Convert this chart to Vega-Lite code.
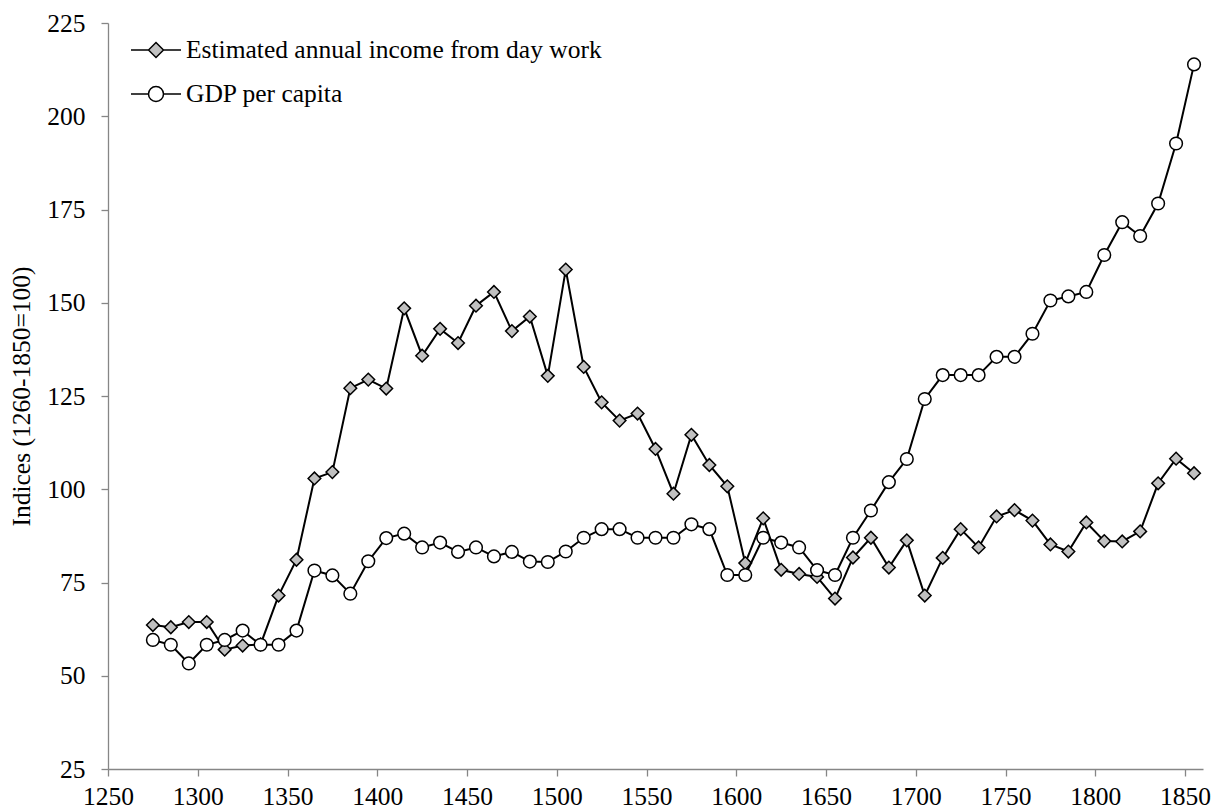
{
  "$schema": "https://vega.github.io/schema/vega-lite/v6.json",
  "width": 1095,
  "height": 746,
  "autosize": {"type": "none"},
  "padding": {"left": 108, "top": 23, "right": 23, "bottom": 41},
  "background": "white",
  "config": {
    "font": "Liberation Serif",
    "view": {"stroke": null},
    "axis": {
      "domainColor": "#868686",
      "tickColor": "#868686",
      "domainWidth": 1.3,
      "tickWidth": 1.3,
      "tickSize": 7,
      "labelFont": "Liberation Serif",
      "labelFontSize": 25.5,
      "labelColor": "#000000",
      "labelFlush": false,
      "grid": false,
      "titleFont": "Liberation Serif",
      "titleFontSize": 25.5,
      "titleFontWeight": "normal",
      "titleColor": "#000000"
    },
    "legend": {
      "title": null,
      "orient": "none",
      "padding": 0,
      "symbolSize": 2500,
      "symbolStrokeColor": "#000000",
      "symbolStrokeWidth": 1.5,
      "labelFont": "Liberation Serif",
      "labelFontSize": 25.5,
      "labelColor": "#000000",
      "labelOffset": 4,
      "labelLimit": 600
    }
  },
  "resolve": {"scale": {"fill": "independent"}, "legend": {"fill": "independent"}},
  "data": {
    "values": [
      {"year": 1275, "series": "Estimated annual income from day work", "value": 63.6},
      {"year": 1285, "series": "Estimated annual income from day work", "value": 63.0},
      {"year": 1295, "series": "Estimated annual income from day work", "value": 64.4},
      {"year": 1305, "series": "Estimated annual income from day work", "value": 64.4},
      {"year": 1315, "series": "Estimated annual income from day work", "value": 57.0},
      {"year": 1325, "series": "Estimated annual income from day work", "value": 58.1},
      {"year": 1335, "series": "Estimated annual income from day work", "value": 58.4},
      {"year": 1345, "series": "Estimated annual income from day work", "value": 71.5},
      {"year": 1355, "series": "Estimated annual income from day work", "value": 81.1},
      {"year": 1365, "series": "Estimated annual income from day work", "value": 102.9},
      {"year": 1375, "series": "Estimated annual income from day work", "value": 104.6},
      {"year": 1385, "series": "Estimated annual income from day work", "value": 127.1},
      {"year": 1395, "series": "Estimated annual income from day work", "value": 129.4},
      {"year": 1405, "series": "Estimated annual income from day work", "value": 127.0},
      {"year": 1415, "series": "Estimated annual income from day work", "value": 148.5},
      {"year": 1425, "series": "Estimated annual income from day work", "value": 135.8},
      {"year": 1435, "series": "Estimated annual income from day work", "value": 143.0},
      {"year": 1445, "series": "Estimated annual income from day work", "value": 139.2},
      {"year": 1455, "series": "Estimated annual income from day work", "value": 149.2},
      {"year": 1465, "series": "Estimated annual income from day work", "value": 152.9},
      {"year": 1475, "series": "Estimated annual income from day work", "value": 142.4},
      {"year": 1485, "series": "Estimated annual income from day work", "value": 146.3},
      {"year": 1495, "series": "Estimated annual income from day work", "value": 130.4},
      {"year": 1505, "series": "Estimated annual income from day work", "value": 158.9},
      {"year": 1515, "series": "Estimated annual income from day work", "value": 132.8},
      {"year": 1525, "series": "Estimated annual income from day work", "value": 123.3},
      {"year": 1535, "series": "Estimated annual income from day work", "value": 118.4},
      {"year": 1545, "series": "Estimated annual income from day work", "value": 120.3},
      {"year": 1555, "series": "Estimated annual income from day work", "value": 110.8},
      {"year": 1565, "series": "Estimated annual income from day work", "value": 98.8},
      {"year": 1575, "series": "Estimated annual income from day work", "value": 114.6},
      {"year": 1585, "series": "Estimated annual income from day work", "value": 106.5},
      {"year": 1595, "series": "Estimated annual income from day work", "value": 100.8},
      {"year": 1605, "series": "Estimated annual income from day work", "value": 80.2},
      {"year": 1615, "series": "Estimated annual income from day work", "value": 92.2},
      {"year": 1625, "series": "Estimated annual income from day work", "value": 78.4},
      {"year": 1635, "series": "Estimated annual income from day work", "value": 77.3},
      {"year": 1645, "series": "Estimated annual income from day work", "value": 76.5},
      {"year": 1655, "series": "Estimated annual income from day work", "value": 70.7},
      {"year": 1665, "series": "Estimated annual income from day work", "value": 81.7},
      {"year": 1675, "series": "Estimated annual income from day work", "value": 87.0},
      {"year": 1685, "series": "Estimated annual income from day work", "value": 79.0},
      {"year": 1695, "series": "Estimated annual income from day work", "value": 86.3},
      {"year": 1705, "series": "Estimated annual income from day work", "value": 71.5},
      {"year": 1715, "series": "Estimated annual income from day work", "value": 81.6},
      {"year": 1725, "series": "Estimated annual income from day work", "value": 89.3},
      {"year": 1735, "series": "Estimated annual income from day work", "value": 84.4},
      {"year": 1745, "series": "Estimated annual income from day work", "value": 92.7},
      {"year": 1755, "series": "Estimated annual income from day work", "value": 94.4},
      {"year": 1765, "series": "Estimated annual income from day work", "value": 91.6},
      {"year": 1775, "series": "Estimated annual income from day work", "value": 85.2},
      {"year": 1785, "series": "Estimated annual income from day work", "value": 83.3},
      {"year": 1795, "series": "Estimated annual income from day work", "value": 91.1},
      {"year": 1805, "series": "Estimated annual income from day work", "value": 86.1},
      {"year": 1815, "series": "Estimated annual income from day work", "value": 86.0},
      {"year": 1825, "series": "Estimated annual income from day work", "value": 88.7},
      {"year": 1835, "series": "Estimated annual income from day work", "value": 101.6},
      {"year": 1845, "series": "Estimated annual income from day work", "value": 108.2},
      {"year": 1855, "series": "Estimated annual income from day work", "value": 104.3},
      {"year": 1275, "series": "GDP per capita", "value": 59.6},
      {"year": 1285, "series": "GDP per capita", "value": 58.3},
      {"year": 1295, "series": "GDP per capita", "value": 53.3},
      {"year": 1305, "series": "GDP per capita", "value": 58.3},
      {"year": 1315, "series": "GDP per capita", "value": 59.6},
      {"year": 1325, "series": "GDP per capita", "value": 62.1},
      {"year": 1335, "series": "GDP per capita", "value": 58.3},
      {"year": 1345, "series": "GDP per capita", "value": 58.3},
      {"year": 1355, "series": "GDP per capita", "value": 62.1},
      {"year": 1365, "series": "GDP per capita", "value": 78.2},
      {"year": 1375, "series": "GDP per capita", "value": 76.9},
      {"year": 1385, "series": "GDP per capita", "value": 72.0},
      {"year": 1395, "series": "GDP per capita", "value": 80.7},
      {"year": 1405, "series": "GDP per capita", "value": 86.9},
      {"year": 1415, "series": "GDP per capita", "value": 88.1},
      {"year": 1425, "series": "GDP per capita", "value": 84.4},
      {"year": 1435, "series": "GDP per capita", "value": 85.7},
      {"year": 1445, "series": "GDP per capita", "value": 83.2},
      {"year": 1455, "series": "GDP per capita", "value": 84.4},
      {"year": 1465, "series": "GDP per capita", "value": 82.0},
      {"year": 1475, "series": "GDP per capita", "value": 83.2},
      {"year": 1485, "series": "GDP per capita", "value": 80.6},
      {"year": 1495, "series": "GDP per capita", "value": 80.5},
      {"year": 1505, "series": "GDP per capita", "value": 83.3},
      {"year": 1515, "series": "GDP per capita", "value": 87.0},
      {"year": 1525, "series": "GDP per capita", "value": 89.3},
      {"year": 1535, "series": "GDP per capita", "value": 89.3},
      {"year": 1545, "series": "GDP per capita", "value": 87.0},
      {"year": 1555, "series": "GDP per capita", "value": 87.0},
      {"year": 1565, "series": "GDP per capita", "value": 87.0},
      {"year": 1575, "series": "GDP per capita", "value": 90.6},
      {"year": 1585, "series": "GDP per capita", "value": 89.3},
      {"year": 1595, "series": "GDP per capita", "value": 77.0},
      {"year": 1605, "series": "GDP per capita", "value": 77.0},
      {"year": 1615, "series": "GDP per capita", "value": 87.0},
      {"year": 1625, "series": "GDP per capita", "value": 85.7},
      {"year": 1635, "series": "GDP per capita", "value": 84.4},
      {"year": 1645, "series": "GDP per capita", "value": 78.3},
      {"year": 1655, "series": "GDP per capita", "value": 77.0},
      {"year": 1665, "series": "GDP per capita", "value": 87.0},
      {"year": 1675, "series": "GDP per capita", "value": 94.3},
      {"year": 1685, "series": "GDP per capita", "value": 101.9},
      {"year": 1695, "series": "GDP per capita", "value": 108.1},
      {"year": 1705, "series": "GDP per capita", "value": 124.2},
      {"year": 1715, "series": "GDP per capita", "value": 130.6},
      {"year": 1725, "series": "GDP per capita", "value": 130.6},
      {"year": 1735, "series": "GDP per capita", "value": 130.6},
      {"year": 1745, "series": "GDP per capita", "value": 135.5},
      {"year": 1755, "series": "GDP per capita", "value": 135.5},
      {"year": 1765, "series": "GDP per capita", "value": 141.7},
      {"year": 1775, "series": "GDP per capita", "value": 150.6},
      {"year": 1785, "series": "GDP per capita", "value": 151.7},
      {"year": 1795, "series": "GDP per capita", "value": 152.9},
      {"year": 1805, "series": "GDP per capita", "value": 162.8},
      {"year": 1815, "series": "GDP per capita", "value": 171.6},
      {"year": 1825, "series": "GDP per capita", "value": 167.9},
      {"year": 1835, "series": "GDP per capita", "value": 176.6},
      {"year": 1845, "series": "GDP per capita", "value": 192.7},
      {"year": 1855, "series": "GDP per capita", "value": 213.9}
    ]
  },
  "encoding": {
    "x": {
      "field": "year",
      "type": "quantitative",
      "scale": {"domain": [1250, 1860], "nice": false, "zero": false},
      "axis": {
        "values": [1250, 1300, 1350, 1400, 1450, 1500, 1550, 1600, 1650, 1700, 1750, 1800, 1850],
        "format": "d",
        "title": null,
        "labelPadding": 8,
        "labelDx": 8,
        "labelFlush": false
      }
    },
    "y": {
      "field": "value",
      "type": "quantitative",
      "scale": {"domain": [25, 225], "nice": false, "zero": false},
      "axis": {
        "values": [25, 50, 75, 100, 125, 150, 175, 200, 225],
        "title": "Indices (1260-1850=100)",
        "labelPadding": 16,
        "titlePadding": 12,
        "labelFlush": false
      }
    }
  },
  "layer": [
    {
      "transform": [{"filter": "datum.series === 'Estimated annual income from day work'"}],
      "mark": {"type": "line", "color": "#000000", "strokeWidth": 2}
    },
    {
      "transform": [{"filter": "datum.series === 'Estimated annual income from day work'"}],
      "mark": {"type": "point", "shape": "diamond", "filled": true, "stroke": "#000000", "strokeWidth": 1.5, "size": 160, "opacity": 1},
      "encoding": {
        "fill": {
          "field": "series",
          "type": "nominal",
          "scale": {"domain": ["Estimated annual income from day work"], "range": ["#c0c0c0"]},
          "legend": {
            "legendX": 22,
            "legendY": 1,
            "symbolType": "M-1,0H-0.3M0.3,0H1M-0.3,0L0,-0.3L0.3,0L0,0.3Z"
          }
        }
      }
    },
    {
      "transform": [{"filter": "datum.series === 'GDP per capita'"}],
      "mark": {"type": "line", "color": "#000000", "strokeWidth": 2}
    },
    {
      "transform": [{"filter": "datum.series === 'GDP per capita'"}],
      "mark": {"type": "point", "shape": "circle", "filled": true, "stroke": "#000000", "strokeWidth": 1.5, "size": 160, "opacity": 1},
      "encoding": {
        "fill": {
          "field": "series",
          "type": "nominal",
          "scale": {"domain": ["GDP per capita"], "range": ["#ffffff"]},
          "legend": {
            "legendX": 22,
            "legendY": 45,
            "symbolType": "M-1,0H-0.3M0.3,0H1M-0.3,0A0.3,0.3,0,1,0,0.3,0A0.3,0.3,0,1,0,-0.3,0Z"
          }
        }
      }
    }
  ]
}
